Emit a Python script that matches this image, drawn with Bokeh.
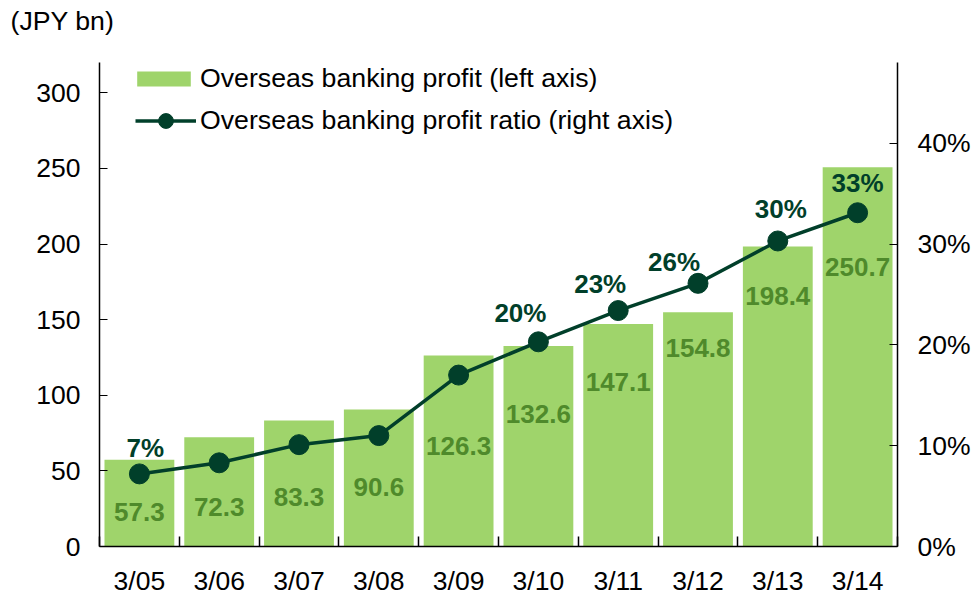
from bokeh.plotting import figure
from bokeh.models import Range1d, LinearAxis, FixedTicker, Legend, LegendItem, Title
from bokeh.core.properties import value
from bokeh.embed import file_html
from bokeh.resources import INLINE

# ---- data ----
years = ["3/05", "3/06", "3/07", "3/08", "3/09", "3/10", "3/11", "3/12", "3/13", "3/14"]
profit = [57.3, 72.3, 83.3, 90.6, 126.3, 132.6, 147.1, 154.8, 198.4, 250.7]
ratio = [7.2, 8.3, 10.1, 11.0, 17.0, 20.3, 23.4, 26.1, 30.3, 33.1]
ratio_labels = ["7%", "", "", "", "", "20%", "23%", "26%", "30%", "33%"]
left_ticks = [0, 50, 100, 150, 200, 250, 300]
right_ticks = [0, 10, 20, 30, 40]

# ---- label placement (pixels) ----
profit_label_dy = [52, 70, 76, 78, 91, 68, 58, 36, 50, 100]
ratio_label_dx = [6, 0, 0, 0, 0, -18, -18, -24, 3, 0]
ratio_label_dy = [26, 0, 0, 0, 0, 29, 27, 21, 32, 30]

FONT = "Liberation Sans"
BAR = "#9fd46b"
DARK = "#013f2a"
OLIVE = "#4f8a2b"
FS = "26.5px"

n = len(years)
xc = [i + 0.5 for i in range(n)]

p = figure(width=973, height=602, output_backend="svg", toolbar_location=None,
           x_range=Range1d(0, n), y_range=Range1d(0, 320),
           min_border_left=99, min_border_right=75, min_border_top=62, min_border_bottom=56)
p.extra_y_ranges = {"pct": Range1d(0, 48)}
p.outline_line_color = None
p.xgrid.visible = False
p.ygrid.visible = False
p.background_fill_color = "white"

# x axis
xa = p.xaxis[0]
xa.ticker = FixedTicker(ticks=xc, minor_ticks=list(range(n + 1)))
xa.major_label_overrides = {x: y for x, y in zip(xc, years)}
xa.major_tick_in = 0
xa.major_tick_out = 0
xa.minor_tick_in = 10
xa.minor_tick_out = 0
xa.minor_tick_line_color = "black"
xa.minor_tick_line_width = 1.5
xa.axis_line_color = "black"
xa.axis_line_width = 1.5
xa.major_label_text_font = FONT
xa.major_label_text_font_size = FS
xa.major_label_text_color = "black"
xa.major_label_standoff = 19

# left axis
ya = p.yaxis[0]
ya.ticker = FixedTicker(ticks=left_ticks)
ya.major_tick_in = 8
ya.major_tick_out = 0
ya.minor_tick_in = 0
ya.minor_tick_out = 0
ya.axis_line_color = "black"
ya.axis_line_width = 1.5
ya.major_tick_line_width = 1.2
ya.major_label_text_font = FONT
ya.major_label_text_font_size = FS
ya.major_label_text_color = "black"
ya.major_label_standoff = 19

# right axis
ra = LinearAxis(y_range_name="pct", ticker=FixedTicker(ticks=right_ticks))
ra.major_label_overrides = {t: f"{t}%" for t in right_ticks}
ra.major_tick_in = 8
ra.major_tick_out = 0
ra.minor_tick_in = 0
ra.minor_tick_out = 0
ra.axis_line_color = "black"
ra.axis_line_width = 1.5
ra.major_tick_line_width = 1.2
ra.major_label_text_font = FONT
ra.major_label_text_font_size = FS
ra.major_label_text_color = "black"
ra.major_label_standoff = 20
p.add_layout(ra, "right")

# bars
bars = p.vbar(x=xc, top=profit, width=0.875, fill_color=BAR, line_color=None)

# line + markers
ln = p.line(xc, ratio, y_range_name="pct", line_color=DARK, line_width=3.5)
sc = p.scatter(xc, ratio, y_range_name="pct", size=20, fill_color=DARK, line_color=DARK)

# bar value labels
p.text(x=xc, y=profit, text=[f"{v:.1f}" for v in profit], y_offset=profit_label_dy,
       text_align="center", text_baseline="middle", text_font=value(FONT),
       text_font_style="bold", text_font_size="26px", text_color=OLIVE)

# ratio labels
p.text(x=xc, y=ratio, text=ratio_labels, x_offset=ratio_label_dx,
       y_offset=[-d for d in ratio_label_dy], y_range_name="pct",
       text_align="center", text_baseline="middle", text_font=value(FONT),
       text_font_style="bold", text_font_size="26px", text_color=DARK)

# legends
def style_legend(lg):
    lg.border_line_color = None
    lg.background_fill_alpha = 0
    lg.padding = 0
    lg.margin = 0
    lg.label_text_font = FONT
    lg.label_text_font_size = "26.7px"
    lg.label_text_color = "black"

leg1 = Legend(items=[LegendItem(label="Overseas banking profit (left axis)", renderers=[bars])],
              location=(31, 452), glyph_width=67, glyph_height=19, label_standoff=3)
style_legend(leg1)
leg2 = Legend(items=[LegendItem(label="Overseas banking profit ratio (right axis)", renderers=[ln, sc])],
              location=(36, 407), glyph_width=61, glyph_height=37, label_standoff=4)
style_legend(leg2)
p.add_layout(leg1)
p.add_layout(leg2)

# unit label (spacer title keeps it high above the frame)
spacer = Title(text=" ", text_font_size="2px", standoff=23, text_color="white")
p.add_layout(spacer, "above")
t = Title(text="(JPY bn)", align="left", offset=-89, standoff=0,
          text_font=FONT, text_font_size="26.7px", text_font_style="normal",
          text_color="black")
p.add_layout(t, "above")

open("out.html", "w").write(file_html(p, INLINE))
